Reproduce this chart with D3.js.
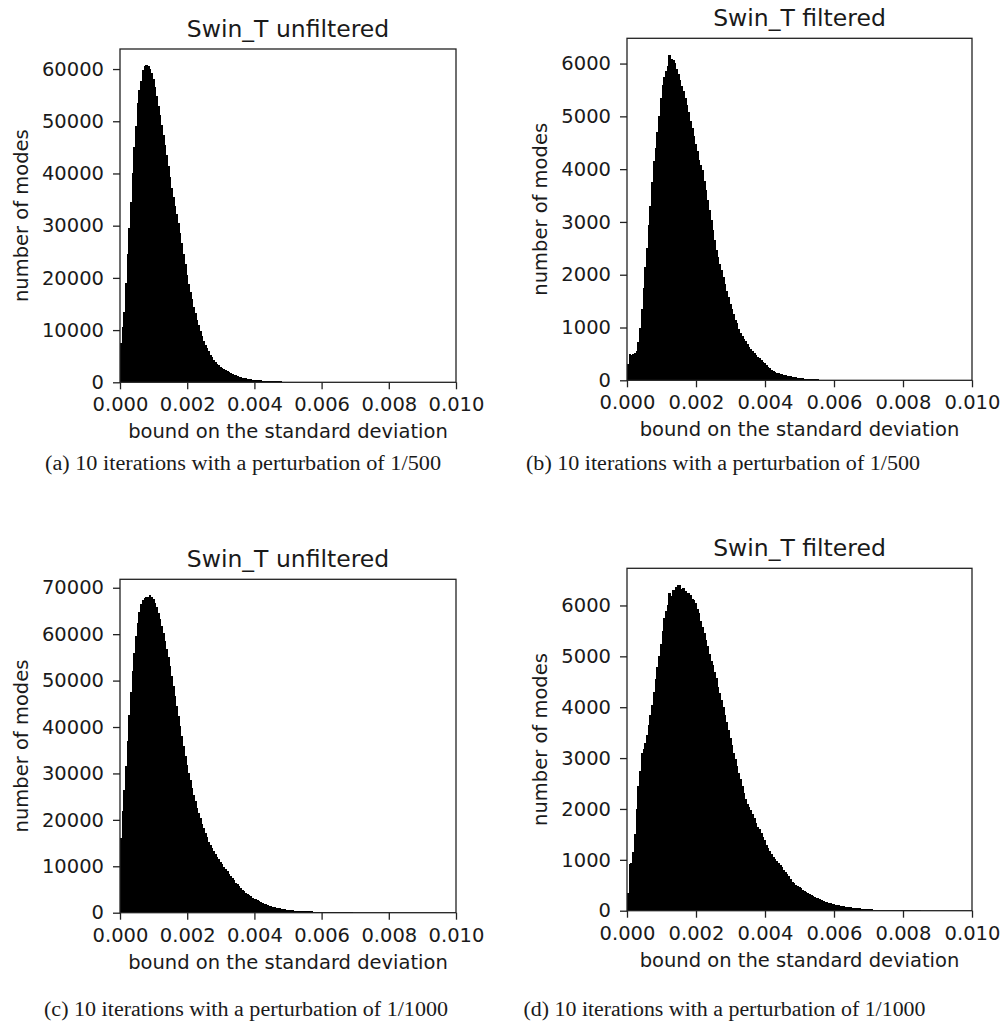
<!DOCTYPE html>
<html><head><meta charset="utf-8">
<script src="https://cdn.jsdelivr.net/npm/d3@7"></script>
<style>
body{margin:0;background:#fff}
svg text{font-family:"DejaVu Sans",sans-serif;fill:#1a1a1a}
</style>
</head><body>
<svg id="fig" width="1005" height="1024"></svg>
<script>
// ---------- data ----------
const binWidth = 0.00005;
const xTicks = [0, 0.002, 0.004, 0.006, 0.008, 0.010];
const xLabel = "bound on the standard deviation";
const yLabel = "number of modes";
const titles = ["Swin_T unfiltered", "Swin_T filtered", "Swin_T unfiltered", "Swin_T filtered"];
const captions = [
  "(a) 10 iterations with a perturbation of 1/500",
  "(b) 10 iterations with a perturbation of 1/500",
  "(c) 10 iterations with a perturbation of 1/1000",
  "(d) 10 iterations with a perturbation of 1/1000"
];
const yTicksA = [0, 10000, 20000, 30000, 40000, 50000, 60000];
const yTicksB = [0, 1000, 2000, 3000, 4000, 5000, 6000];
const yTicksC = [0, 10000, 20000, 30000, 40000, 50000, 60000, 70000];
const yTicksD = [0, 1000, 2000, 3000, 4000, 5000, 6000];

const countsA = [7500,10500,13500,19000,24500,29500,34500,40000,45000,49000,
 53500,56000,57800,59800,60500,60800,60600,60000,59200,58000,
 56500,54800,53000,51200,49300,47400,45500,43500,41500,39400,
 37300,35500,33800,32200,30500,28600,26600,24600,22600,20600,
 18800,17300,15900,14500,13200,12000,10900,9900,8900,8000,
 7200,6500,5900,5300,4800,4350,3950,3600,3300,3000,
 2750,2500,2280,2080,1900,1730,1580,1440,1310,1190,
 1080,980,900,820,750,690,630,580,530,490,
 450,415,385,355,330,305,285,265,245,230,
 215,200,190,180,170,160,150,140,130,120,
 110,100,90,60];

const countsB = [300,500,480,500,520,560,720,1000,1350,1750,
 2150,2500,2950,3300,3750,4150,4400,4700,5000,5350,
 5600,5750,5850,5950,6170,6080,6070,6020,5900,5800,
 5680,5580,5480,5350,5220,5080,4920,4780,4620,4480,
 4340,4180,4070,3980,3780,3600,3410,3220,3030,2850,
 2660,2470,2330,2200,2080,1950,1830,1700,1570,1450,
 1350,1250,1150,1080,980,900,840,790,740,690,
 640,590,550,510,480,450,420,380,350,320,
 290,260,230,200,180,160,145,130,120,110,
 100,95,90,80,75,70,62,56,50,46,
 42,38,34,30,28,26,24,22,20,18,
 16,14,12,10,8,8,6,4,3];

const countsC = [16000,22000,26500,31500,37000,42500,47500,52000,56000,59500,
 62500,64800,66500,67300,67700,67900,68100,68400,68100,67500,
 66800,65800,64600,63200,61800,60300,58600,56800,55000,53100,
 51000,48900,46700,44500,42300,40200,38000,35900,33700,31900,
 30100,28600,26900,25400,24000,22600,21400,20300,19200,18200,
 17100,16200,15300,14600,13900,13300,12700,12100,11500,10900,
 10400,9900,9400,8900,8400,7900,7400,7000,6500,6100,
 5700,5300,4950,4600,4300,4000,3750,3500,3250,3050,
 2850,2650,2450,2250,2100,1950,1800,1650,1500,1400,
 1300,1200,1100,1000,920,850,780,720,660,610,
 560,520,490,460,430,410,390,370,350,330,
 310,295,280,265,250,240,230,220,210,200,
 190,180,170,165,160,155,150,145,140,135,
 130,125,120,115,110,100,90,70];

const countsD = [350,920,940,1150,1500,2000,2450,2750,3100,3180,
 3300,3450,3650,3850,4050,4300,4550,4800,5000,5250,
 5500,5750,5900,6000,6250,6180,6300,6230,6370,6400,
 6410,6320,6340,6280,6250,6240,6200,6130,6100,6050,
 5930,5850,5700,5580,5450,5320,5200,5050,4900,4830,
 4700,4580,4400,4280,4150,4000,3850,3700,3550,3400,
 3250,3100,2980,2850,2700,2580,2450,2320,2200,2100,
 2030,1980,1900,1820,1720,1650,1600,1530,1450,1380,
 1300,1240,1170,1110,1050,1010,970,930,900,860,
 800,760,720,680,620,570,540,510,490,470,
 440,410,390,370,345,320,305,290,275,255,
 240,225,210,195,180,170,160,150,140,130,
 120,115,110,100,95,88,80,75,70,65,
 60,56,52,48,44,40,37,34,31,28,
 26,24,22,20,20,18,18,16,15,14,
 14,12,12,11,10,10,10,8,8,8,
 7,7,6,6,5,5,5,4,4,4,3,3];

// ---------- layout ----------
const layout = [
  {counts: countsA, yTicks: yTicksA, left:120, right:456, top:49,   bottom:382.3, yLabX:28,    capX:243,   capY:470,  capW:396},
  {counts: countsB, yTicks: yTicksB, left:627, right:972, top:38.3, bottom:380.3, yLabX:546.5, capX:723,   capY:470,  capW:394},
  {counts: countsC, yTicks: yTicksC, left:120, right:456, top:579.3,bottom:912.7, yLabX:28,    capX:246,   capY:1016, capW:404},
  {counts: countsD, yTicks: yTicksD, left:627, right:972, top:568.3,bottom:910.7, yLabX:546.5, capX:724.5, capY:1016, capW:402}
];

const svg = d3.select("#fig");
svg.append("rect").attr("width",1005).attr("height",1024).attr("fill","#fff");

layout.forEach((p, i) => {
  const x = d3.scaleLinear().domain([0, 0.010]).range([p.left, p.right]);
  const ymax = d3.max(p.counts) * 1.05;
  const y = d3.scaleLinear().domain([0, ymax]).range([p.bottom, p.top]);
  const g = svg.append("g");

  // bars (slightly overlapping so no seams appear between neighbours)
  g.append("g").attr("shape-rendering", "crispEdges")
    .selectAll("rect").data(p.counts).join("rect")
    .attr("x", (d, k) => x(k * binWidth))
    .attr("width", (d, k) => x((k + 1) * binWidth) - x(k * binWidth) + 1)
    .attr("y", d => y(d))
    .attr("height", d => y(0) - y(d))
    .attr("fill", "#000");

  // axes
  const xa = g.append("g").attr("transform", `translate(0,${p.bottom})`)
    .call(d3.axisBottom(x).tickValues(xTicks).tickFormat(d3.format(".3f")).tickSize(7).tickPadding(8));
  const ya = g.append("g").attr("transform", `translate(${p.left},0)`)
    .call(d3.axisLeft(y).tickValues(p.yTicks).tickFormat(d3.format("d")).tickSize(7).tickPadding(9));
  [xa, ya].forEach(a => {
    a.select(".domain").remove();
    a.selectAll(".tick line").attr("stroke", "#222").attr("stroke-width", 1.3);
    a.selectAll(".tick text").attr("font-size", "19.5px").attr("fill", "#1a1a1a")
      .style("font-family", "'DejaVu Sans', sans-serif");
  });

  // spines
  g.append("rect").attr("x", p.left).attr("y", p.top)
    .attr("width", p.right - p.left).attr("height", p.bottom - p.top)
    .attr("fill", "none").attr("stroke", "#222").attr("stroke-width", 1.3);

  // title
  g.append("text").attr("x", (p.left + p.right) / 2).attr("y", p.top - 12)
    .attr("text-anchor", "middle").attr("font-size", "23.5px").text(titles[i]);

  // x label
  g.append("text").attr("x", (p.left + p.right) / 2).attr("y", p.bottom + 56)
    .attr("text-anchor", "middle").attr("font-size", "19.5px").text(xLabel);

  // y label
  g.append("text").attr("transform", `translate(${p.yLabX},${(p.top + p.bottom) / 2}) rotate(-90)`)
    .attr("text-anchor", "middle").attr("font-size", "19.5px").text(yLabel);

  // caption
  g.append("text").attr("x", p.capX).attr("y", p.capY)
    .attr("text-anchor", "middle").attr("font-size", "20px")
    .attr("textLength", p.capW).attr("lengthAdjust", "spacingAndGlyphs")
    .style("font-family", "'Liberation Serif', 'Times New Roman', serif")
    .text(captions[i]);
});
</script>
</body></html>
